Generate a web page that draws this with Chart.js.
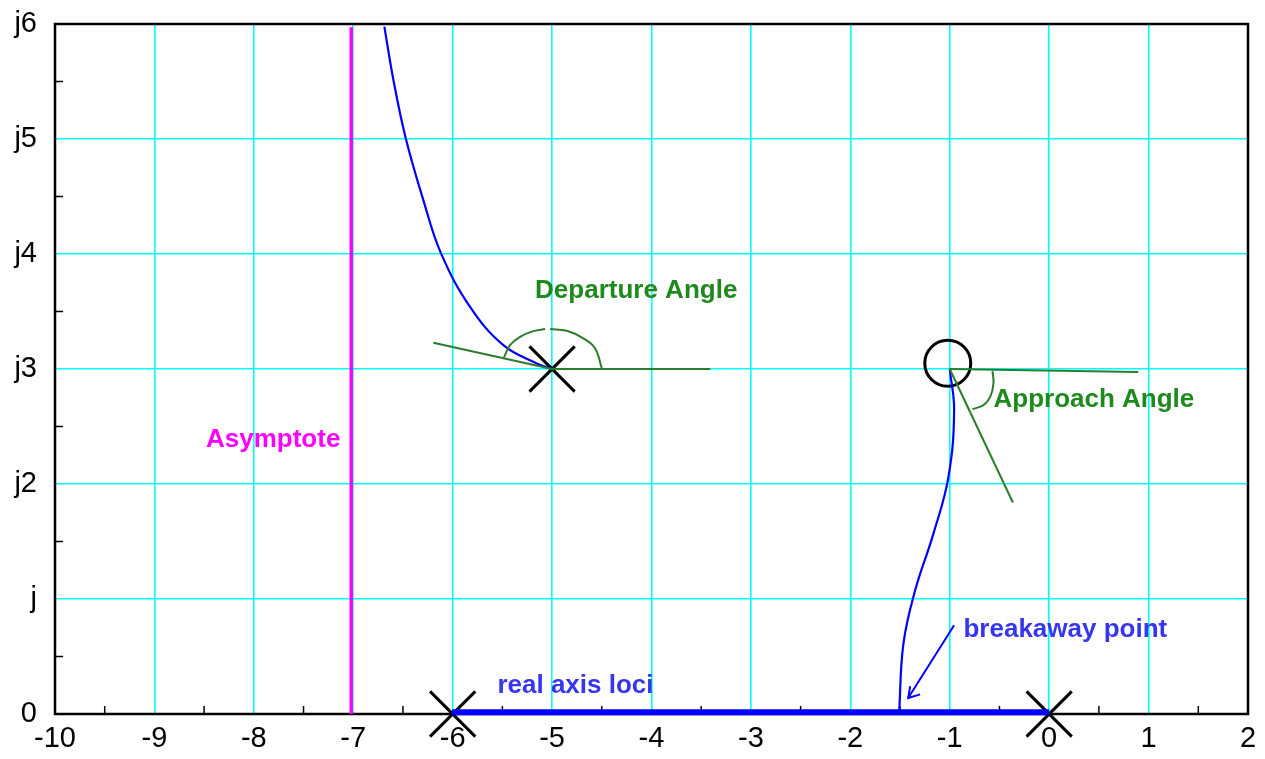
<!DOCTYPE html>
<html>
<head>
<meta charset="utf-8">
<script src="https://cdn.jsdelivr.net/npm/chart.js@4/dist/chart.umd.min.js"></script>
<style>
  html, body { margin: 0; padding: 0; background: #ffffff; }
  canvas { display: block; }
</style>
</head>
<body>
<canvas id="locus" width="1265" height="759"></canvas>
<script>
// Axis ranges and tick labels
const realMin = -10, realMax = 2;
const imagMin = 0, imagMax = 6;
const imagTickLabels = ['0', 'j', 'j2', 'j3', 'j4', 'j5', 'j6'];

// Open-loop poles (X) and zero (O)
const poleRe = [-6, 0, -5];
const poleIm = [0, 0, 3];
const zeroRe = [-1.02];
const zeroIm = [3.05];

// Complex branch leaving the pole at -5+j3
const departRe = [-5.0, -5.154, -5.490, -5.825, -6.117, -6.295, -6.472, -6.596, -6.687];
const departIm = [3.0, 3.048, 3.207, 3.541, 4.005, 4.469, 5.006, 5.513, 5.977];

// Branch from the breakaway point up to the zero at -1+j3
const approachRe = [-1.509, -1.466, -1.348, -1.164, -1.013, -0.956, -1.0];
const approachIm = [0.015, 0.612, 1.076, 1.569, 2.062, 2.642, 3.0];

// Real-axis segment of the locus
const realLociRe = [-6.006, 0];
const realLociIm = [0.015, 0.015];

// Asymptote
const asymRe = [-7.02, -7.02];
const asymIm = [0, 5.972];

// Departure-angle construction
const depTangentRe = [-6.194, -5.0];
const depTangentIm = [3.228, 3.0];
const depRefRe = [-5.0, -3.41];
const depRefIm = [3.0, 3.0];
const depArcLeftRe = [-5.484, -5.423, -5.322, -5.188, -5.070];
const depArcLeftIm = [3.100, 3.208, 3.280, 3.329, 3.347];
const depArcRightRe = [-5.020, -4.852, -4.685, -4.567, -4.500];
const depArcRightIm = [3.347, 3.332, 3.266, 3.179, 3.005];

// Approach-angle construction
const appRefRe = [-1.0, 0.895];
const appRefIm = [3.0, 2.973];
const appTangentRe = [-1.0, -0.365];
const appTangentIm = [3.0, 1.839];
const appArcRe = [-0.570, -0.560, -0.593, -0.661, -0.771];
const appArcIm = [2.981, 2.874, 2.758, 2.686, 2.651];

// Breakaway pointer (shaft, then head)
const pointerRe = [-0.956, -1.418];
const pointerIm = [0.772, 0.139];
const pointerHeadRe = [-1.298, -1.418, -1.398];
const pointerHeadIm = [0.171, 0.139, 0.241];

// Annotations: text, anchor (left, baseline) in plane coordinates, colour
const noteText = ['Departure Angle', 'Approach Angle', 'Asymptote', 'real axis loci', 'breakaway point'];
const noteRe = [-5.171, -0.560, -8.481, -5.550, -0.862];
const noteIm = [3.614, 2.666, 2.320, 0.186, 0.670];
const noteColor = ['#1e8a1e', '#1e8a1e', '#ff00ff', '#3636f0', '#3636f0'];

const zip = (xs, ys) => xs.map((x, i) => ({ x: x, y: ys[i] }));

const BLUE = '#0000ff';
const GREEN = '#2a7d2a';

function lineSet(xs, ys, color, width, tension) {
  return {
    data: zip(xs, ys),
    showLine: true,
    borderColor: color,
    borderWidth: width,
    pointRadius: 0,
    tension: tension || 0,
    fill: false,
    clip: false
  };
}

const datasets = [
  lineSet(asymRe, asymIm, '#ff00ff', 3.5),
  lineSet(depTangentRe, depTangentIm, GREEN, 2),
  lineSet(depRefRe, depRefIm, GREEN, 2),
  lineSet(depArcLeftRe, depArcLeftIm, GREEN, 2, 0.4),
  lineSet(depArcRightRe, depArcRightIm, GREEN, 2, 0.4),
  lineSet(appRefRe, appRefIm, GREEN, 2),
  lineSet(appTangentRe, appTangentIm, GREEN, 2),
  lineSet(appArcRe, appArcIm, GREEN, 2, 0.4),
  lineSet(departRe, departIm, BLUE, 2.2, 0.4),
  lineSet(approachRe, approachIm, BLUE, 2.2, 0.4),
  lineSet(realLociRe, realLociIm, BLUE, 6),
  lineSet(pointerRe, pointerIm, BLUE, 2),
  lineSet(pointerHeadRe, pointerHeadIm, BLUE, 2),
  {
    data: zip(poleRe, poleIm),
    showLine: false,
    pointStyle: 'crossRot',
    pointRadius: 32,
    pointBorderWidth: 3,
    borderColor: '#000000',
    pointBorderColor: '#000000',
    clip: false
  },
  {
    data: zip(zeroRe, zeroIm),
    showLine: false,
    pointStyle: 'circle',
    pointRadius: 23,
    pointBorderWidth: 3,
    pointBorderColor: '#000000',
    pointBackgroundColor: 'rgba(0,0,0,0)',
    clip: false
  }
];

// Frame around the plot and short inward minor ticks at the half units
const framePlugin = {
  id: 'frame',
  beforeDatasetsDraw(chart) {
    const { ctx, chartArea: a, scales } = chart;
    ctx.save();
    ctx.strokeStyle = '#000000';
    ctx.lineWidth = 1.5;
    ctx.beginPath();
    for (let v = scales.x.min + 0.5; v < scales.x.max; v += 1) {
      const px = scales.x.getPixelForValue(v);
      ctx.moveTo(px, a.bottom);
      ctx.lineTo(px, a.bottom - 8);
    }
    for (let v = scales.y.min + 0.5; v < scales.y.max; v += 1) {
      const py = scales.y.getPixelForValue(v);
      ctx.moveTo(a.left, py);
      ctx.lineTo(a.left + 8, py);
    }
    ctx.stroke();
    ctx.lineWidth = 2.5;
    ctx.strokeRect(a.left, a.top, a.right - a.left, a.bottom - a.top);
    ctx.restore();
  }
};

// Text annotations placed in plane coordinates
const notesPlugin = {
  id: 'notes',
  afterDatasetsDraw(chart) {
    const { ctx, scales } = chart;
    ctx.save();
    ctx.font = 'bold 26px "Liberation Sans", Arial, sans-serif';
    ctx.textAlign = 'left';
    ctx.textBaseline = 'alphabetic';
    noteText.forEach((t, i) => {
      ctx.fillStyle = noteColor[i];
      ctx.fillText(t, scales.x.getPixelForValue(noteRe[i]), scales.y.getPixelForValue(noteIm[i]));
    });
    ctx.restore();
  }
};

const tickFont = { family: '"Liberation Sans", Arial, sans-serif', size: 29 };
const isWhole = v => Math.abs(v - Math.round(v)) < 1e-9;

new Chart(document.getElementById('locus'), {
  type: 'scatter',
  data: { datasets: datasets },
  options: {
    responsive: false,
    animation: false,
    events: [],
    layout: { autoPadding: false, padding: { top: 24, right: 17, left: 0, bottom: 0 } },
    plugins: { legend: { display: false }, tooltip: { enabled: false } },
    scales: {
      x: {
        type: 'linear',
        min: realMin,
        max: realMax,
        afterFit: s => { s.height = 45; s.paddingLeft = 0; s.paddingRight = 0; },
        border: { display: false },
        grid: {
          drawTicks: false,
          color: '#00ffff',
          lineWidth: 1.6
        },
        ticks: {
          stepSize: 1,
          padding: 8,
          color: '#000000',
          font: tickFont,
          maxRotation: 0,
          callback: v => isWhole(v) ? String(v) : ''
        }
      },
      y: {
        type: 'linear',
        min: imagMin,
        max: imagMax,
        afterFit: s => { s.width = 55; s.paddingTop = 0; s.paddingBottom = 0; },
        border: { display: false },
        grid: {
          drawTicks: false,
          color: '#00ffff',
          lineWidth: 1.6
        },
        ticks: {
          stepSize: 1,
          padding: 18,
          color: '#000000',
          font: tickFont,
          callback: v => isWhole(v) ? imagTickLabels[Math.round(v) - imagMin] : ''
        }
      }
    }
  },
  plugins: [framePlugin, notesPlugin]
});
</script>
</body>
</html>
